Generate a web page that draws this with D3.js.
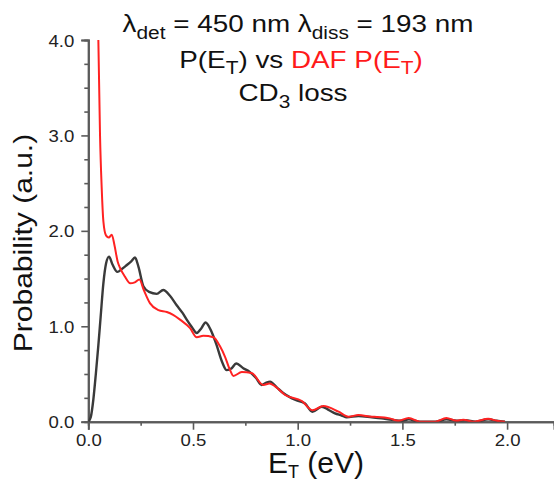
<!DOCTYPE html>
<html>
<head>
<meta charset="utf-8">
<script src="https://cdn.jsdelivr.net/npm/d3@7"></script>
<style>
  body { margin: 0; background: #fff; }
  svg text { font-family: "Liberation Sans", Arial, sans-serif; }
</style>
</head>
<body>
<div id="chart"></div>
<script>
// P(E_T) for CD3 loss
const blackEnergy = [0.000, 0.012, 0.024, 0.036, 0.048, 0.059, 0.072, 0.085, 0.099, 0.115, 0.139, 0.160, 0.183, 0.205, 0.223, 0.240, 0.263, 0.290, 0.327, 0.358, 0.390, 0.422, 0.450, 0.470, 0.495, 0.518, 0.540, 0.560, 0.585, 0.610, 0.640, 0.661, 0.685, 0.706, 0.740, 0.772, 0.800, 0.828, 0.850, 0.868, 0.900, 0.931, 0.960, 0.987, 1.035, 1.070, 1.115, 1.150, 1.178, 1.210, 1.234, 1.290, 1.354, 1.400, 1.450, 1.500, 1.530, 1.580, 1.660, 1.710, 1.760, 1.800, 1.850, 1.910, 1.950, 1.990];
const blackProb   = [0.00, 0.05, 0.23, 0.50, 0.80, 1.10, 1.45, 1.66, 1.73, 1.65, 1.57, 1.60, 1.64, 1.68, 1.72, 1.62, 1.42, 1.36, 1.34, 1.38, 1.32, 1.22, 1.14, 1.07, 0.99, 0.93, 0.98, 1.04, 0.96, 0.82, 0.62, 0.54, 0.56, 0.61, 0.56, 0.52, 0.46, 0.385, 0.41, 0.42, 0.36, 0.30, 0.26, 0.23, 0.19, 0.105, 0.157, 0.12, 0.088, 0.065, 0.046, 0.06, 0.046, 0.035, 0.02, 0.01, 0.025, 0.0, 0.0, 0.025, 0.01, 0.015, 0.0, 0.025, 0.01, 0.0];

// DAF P(E_T)
const redEnergy = [0.048, 0.056, 0.064, 0.072, 0.085, 0.098, 0.112, 0.125, 0.140, 0.152, 0.175, 0.200, 0.222, 0.244, 0.265, 0.295, 0.335, 0.375, 0.405, 0.438, 0.486, 0.518, 0.549, 0.597, 0.629, 0.653, 0.677, 0.693, 0.733, 0.780, 0.836, 0.865, 0.892, 0.940, 1.020, 1.070, 1.123, 1.195, 1.243, 1.290, 1.354, 1.378, 1.440, 1.480, 1.530, 1.585, 1.656, 1.710, 1.760, 1.790, 1.840, 1.910, 1.950, 1.990];
const redProb   = [4.00, 3.00, 2.45, 2.10, 1.95, 1.93, 1.96, 1.85, 1.68, 1.61, 1.52, 1.45, 1.46, 1.49, 1.38, 1.24, 1.17, 1.15, 1.12, 1.07, 0.98, 0.885, 0.90, 0.885, 0.79, 0.68, 0.54, 0.48, 0.52, 0.51, 0.385, 0.40, 0.37, 0.28, 0.217, 0.12, 0.165, 0.105, 0.052, 0.07, 0.052, 0.05, 0.035, 0.01, 0.04, 0.0, 0.0, 0.04, 0.01, 0.02, 0.0, 0.03, 0.01, 0.0];

const xMajorTicks = [0, 0.5, 1.0, 1.5, 2.0];
const xMinorTicks = [0.25, 0.75, 1.25, 1.75];
const yMajorTicks = [0, 1, 2, 3, 4];
const yMinorTicks = [0.25, 0.5, 0.75, 1.25, 1.5, 1.75, 2.25, 2.5, 2.75, 3.25, 3.5, 3.75];

const width = 554, height = 482;
const axisColor = "#5a5a5a";
const stretch = 1.16; // the figure's lettering is wider than Arial

const svg = d3.select("#chart").append("svg")
  .attr("width", width)
  .attr("height", height);

const x = d3.scaleLinear().domain([0, 2.224]).range([88.3, 554]);
const y = d3.scaleLinear().domain([0, 4]).range([421.7, 40]);

// clip so the red spike stops at the top of the axis
svg.append("defs").append("clipPath").attr("id", "plotClip")
  .append("rect").attr("x", x(0)).attr("y", y(4)).attr("width", width - x(0)).attr("height", y(0) - y(4));

const styleAxis = (g) => {
  g.selectAll("path.domain").style("stroke", axisColor).style("stroke-width", "2px");
  g.selectAll(".tick line").style("stroke", axisColor).style("stroke-width", "1.6px");
};

// minor ticks
svg.append("g").attr("transform", `translate(0,${y(0)})`)
  .call(d3.axisBottom(x).tickValues(xMinorTicks).tickSize(4).tickFormat(""))
  .call(styleAxis);
svg.append("g").attr("transform", `translate(${x(0)},0)`)
  .call(d3.axisLeft(y).tickValues(yMinorTicks).tickSize(4).tickFormat(""))
  .call(styleAxis);

// major ticks with labels
const xAxis = svg.append("g").attr("transform", `translate(0,${y(0)})`)
  .call(d3.axisBottom(x).tickValues(xMajorTicks).tickSize(8).tickPadding(3).tickFormat(d3.format(".1f")))
  .call(styleAxis);
xAxis.selectAll("text")
  .attr("y", 0).attr("dy", 0)
  .attr("transform", `translate(0,24) scale(${stretch},1)`)
  .style("font-size", "16px").style("fill", "#222");

const yAxis = svg.append("g").attr("transform", `translate(${x(0)},0)`)
  .call(d3.axisLeft(y).tickValues(yMajorTicks).tickSize(7).tickFormat(d3.format(".1f")))
  .call(styleAxis);
yAxis.selectAll("text")
  .attr("x", 0).attr("dy", 0)
  .attr("transform", `translate(-14,6) scale(${stretch},1)`)
  .style("font-size", "16px").style("fill", "#222");

// curves
const line = d3.line().x(d => x(d[0])).y(d => y(d[1])).curve(d3.curveMonotoneX);
const plot = svg.append("g").attr("clip-path", "url(#plotClip)");

plot.append("path")
  .datum(d3.zip(blackEnergy, blackProb))
  .attr("d", line)
  .style("fill", "none")
  .style("stroke", "#3a3a3a")
  .style("stroke-width", "2.4px");

plot.append("path")
  .datum(d3.zip(redEnergy, redProb))
  .attr("d", line)
  .style("fill", "none")
  .style("stroke", "#ff2222")
  .style("stroke-width", "2px");

// axis titles
svg.append("text")
  .attr("transform", `translate(32,243) rotate(-90) scale(1.2,1)`)
  .attr("text-anchor", "middle")
  .style("font-size", "25px").style("fill", "#111")
  .text("Probability (a.u.)");

const xTitle = svg.append("text")
  .attr("transform", `translate(316,473)`)
  .attr("text-anchor", "middle")
  .style("font-size", "30px").style("fill", "#111");
xTitle.append("tspan").text("E");
xTitle.append("tspan").attr("dy", 5).style("font-size", "18px").text("T");
xTitle.append("tspan").attr("dy", -5).text(" (eV)");

// title block
const titleLines = svg.append("g").style("font-size", "24px").style("fill", "#111");

const t1 = titleLines.append("text").attr("transform", `translate(298,32) scale(${stretch},1)`).attr("text-anchor", "middle");
t1.append("tspan").text("λ");
t1.append("tspan").attr("dy", 7).style("font-size", "18px").text("det");
t1.append("tspan").attr("dy", -7).text(" = 450 nm λ");
t1.append("tspan").attr("dy", 7).style("font-size", "18px").text("diss");
t1.append("tspan").attr("dy", -7).text(" = 193 nm");

const t2 = titleLines.append("text").attr("transform", `translate(301,68) scale(${stretch},1)`).attr("text-anchor", "middle");
t2.append("tspan").text("P(E");
t2.append("tspan").attr("dy", 6).style("font-size", "18px").text("T");
t2.append("tspan").attr("dy", -6).text(") vs ");
t2.append("tspan").style("fill", "#ff1a1a").text("DAF P(E");
t2.append("tspan").attr("dy", 6).style("font-size", "18px").style("fill", "#ff1a1a").text("T");
t2.append("tspan").attr("dy", -6).style("fill", "#ff1a1a").text(")");

const t3 = titleLines.append("text").attr("transform", `translate(293,101) scale(${stretch},1)`).attr("text-anchor", "middle");
t3.append("tspan").text("CD");
t3.append("tspan").attr("dy", 7).style("font-size", "18px").text("3");
t3.append("tspan").attr("dy", -7).text(" loss");
</script>
</body>
</html>
